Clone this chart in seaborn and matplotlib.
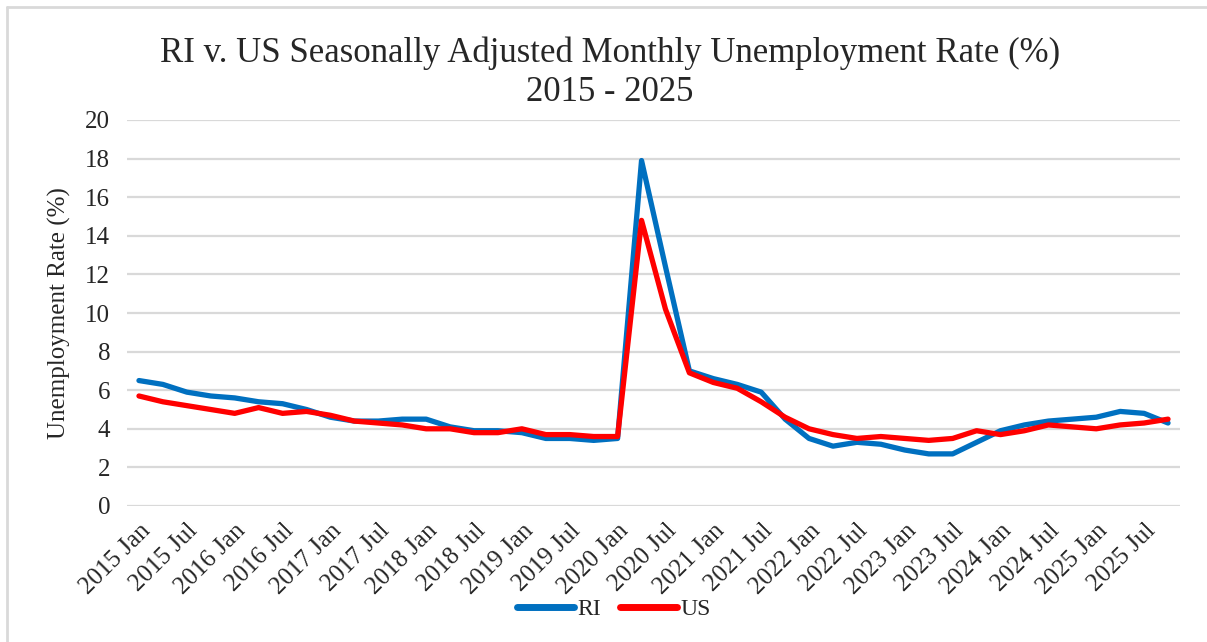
import matplotlib
matplotlib.use("Agg")
import matplotlib.pyplot as plt
import seaborn as sns
import pandas as pd
from matplotlib.lines import Line2D

# ---- data ----
years = list(range(2015, 2026))
months = ["Jan", "Apr", "Jul", "Oct"]
categories = [f"{y} {m}" for y in years for m in months]

ri_rate = [6.5, 6.3, 5.9, 5.7, 5.6, 5.4, 5.3, 5.0, 4.6, 4.4, 4.4, 4.5,
           4.5, 4.1, 3.9, 3.9, 3.8, 3.5, 3.5, 3.4, 3.5, 17.9, 12.4, 7.0,
           6.6, 6.3, 5.9, 4.5, 3.5, 3.1, 3.3, 3.2, 2.9, 2.7, 2.7, 3.3,
           3.9, 4.2, 4.4, 4.5, 4.6, 4.9, 4.8, 4.3]
us_rate = [5.7, 5.4, 5.2, 5.0, 4.8, 5.1, 4.8, 4.9, 4.7, 4.4, 4.3, 4.2,
           4.0, 4.0, 3.8, 3.8, 4.0, 3.7, 3.7, 3.6, 3.6, 14.8, 10.2, 6.9,
           6.4, 6.1, 5.4, 4.6, 4.0, 3.7, 3.5, 3.6, 3.5, 3.4, 3.5, 3.9,
           3.7, 3.9, 4.2, 4.1, 4.0, 4.2, 4.3, 4.5]
series_names = ["RI", "US"]
series_colors = ["#0070C0", "#FF0000"]
y_ticks = list(range(0, 21, 2))

title_text = "RI v. US Seasonally Adjusted Monthly Unemployment Rate (%)\n2015 - 2025"
y_label = "Unemployment Rate (%)"

# ---- build frame ----
n = len(categories)
df = pd.DataFrame({
    "idx": list(range(n)) * 2,
    "rate": ri_rate + us_rate,
    "series": ["RI"] * n + ["US"] * n,
})

sns.set_theme(style="white")
plt.rcParams["font.family"] = ["Liberation Serif", "DejaVu Serif"]

W, H = 1207, 642
fig = plt.figure(figsize=(W / 100, H / 100), dpi=100)
ax = fig.add_axes([127 / W, 1 - 506 / H, (1180 - 127) / W, (506 - 120) / H])

sns.lineplot(data=df, x="idx", y="rate", hue="series", hue_order=series_names,
             palette=series_colors, linewidth=3.8, ax=ax, legend=False,
             solid_capstyle="round", solid_joinstyle="round")

ax.set_xlim(-0.5, n - 0.5)
ax.set_ylim(0, 20)
ax.set_yticks(y_ticks)
ax.set_yticklabels([str(t) for t in y_ticks], fontsize=18)
tick_pos = list(range(0, n, 2))
ax.set_xticks(tick_pos)
ax.set_xticklabels([categories[i] for i in tick_pos], rotation=45, ha="right",
                   rotation_mode="anchor", fontsize=18)
ax.tick_params(axis="both", length=0)
ax.tick_params(axis="x", pad=10)
ax.tick_params(axis="y", pad=12)
ax.yaxis.grid(True, color="#D9D9D9", linewidth=1.6)
ax.xaxis.grid(False)
for s in ax.spines.values():
    s.set_visible(False)
ax.set_xlabel("")
ax.set_ylabel(y_label, fontsize=18, labelpad=10)

fig.text(610 / W, 1 - 73 / H, title_text, ha="center", va="center",
         fontsize=25, linespacing=1.25)

handles = [Line2D([], [], color=c, linewidth=5, solid_capstyle="round")
           for c in series_colors]
fig.legend(handles, series_names, loc="center", bbox_to_anchor=(614 / W, 1 - 609 / H),
           ncol=2, frameon=False, fontsize=17, handlelength=2.4,
           handletextpad=0.15, columnspacing=0.8)

# chart-area border (top and left visible)
fig.add_artist(Line2D([7 / W, 1], [1 - 7 / H, 1 - 7 / H], transform=fig.transFigure,
                      color="#D9D9D9", linewidth=2))
fig.add_artist(Line2D([7 / W, 7 / W], [0, 1 - 7 / H], transform=fig.transFigure,
                      color="#D9D9D9", linewidth=2))

fig.savefig("out.png", dpi=100, facecolor="white")
